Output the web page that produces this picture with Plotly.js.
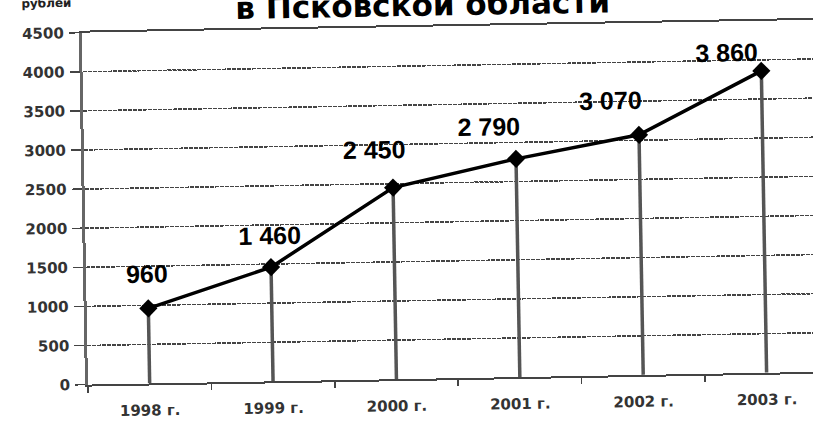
<!DOCTYPE html>
<html>
<head>
<meta charset="utf-8">
<script src="https://cdn.plot.ly/plotly-3.0.1.min.js"></script>
<style>
  html, body { margin: 0; padding: 0; background: #ffffff; overflow: hidden; width: 813px; height: 422px; }
  #chart { position: absolute; left: -10px; top: -10px; width: 833px; height: 442px;
           transform: rotate(-1deg); transform-origin: 50% 50%; }
</style>
</head>
<body>
<div id="chart"></div>
<script>
// ---- data ----
var years = ["1998 г.", "1999 г.", "2000 г.", "2001 г.", "2002 г.", "2003 г."];
var values = [960, 1460, 2450, 2790, 3070, 3860];
var valueLabels = ["960", "1 460", "2 450", "2 790", "3 070", "3 860"];
var yTicks = [0, 500, 1000, 1500, 2000, 2500, 3000, 3500, 4000, 4500];
var titleText = "в Псковской области";
var unitText = "рублей";

// ---- label placement (style) ----
var labelDx = [-1, -1, -18, -26, -28, -34];
var labelDy = [35, 32, 38, 33, 35, 19];

var trace = {
  type: "scatter",
  mode: "lines+markers",
  x: years,
  y: values,
  line: { color: "#000000", width: 3.5 },
  marker: { symbol: "diamond", size: 14, color: "#000000" },
  error_y: {
    type: "data",
    symmetric: false,
    array: values.map(function () { return 0; }),
    arrayminus: values,
    color: "#555555",
    thickness: 3.5,
    width: 0
  },
  hoverinfo: "x+y",
  showlegend: false
};

var annotations = values.map(function (v, i) {
  return {
    x: years[i], y: v, xref: "x", yref: "y",
    text: "<b>" + valueLabels[i] + "</b>", showarrow: false,
    xanchor: "center", yanchor: "middle",
    xshift: labelDx[i], yshift: labelDy[i],
    font: { family: "Liberation Sans, Arial, sans-serif", size: 25, color: "#000000" }
  };
});

annotations.push({
  x: 0.4648, y: 1, xref: "paper", yref: "paper",
  text: "<b>" + titleText + "</b>", showarrow: false,
  xanchor: "center", yanchor: "bottom", yshift: 2,
  font: { family: "DejaVu Sans, sans-serif", size: 31, color: "#000000" }
});
annotations.push({
  x: 0, y: 1, xref: "paper", yref: "paper",
  text: "<b>" + unitText + "</b>", showarrow: false,
  xanchor: "center", yanchor: "bottom", xshift: -35, yshift: 21,
  font: { family: "DejaVu Sans, sans-serif", size: 12, color: "#222222" }
});

var tickFont = { family: "DejaVu Sans, sans-serif", size: 15, color: "#333333", weight: "bold" };

var layout = {
  width: 833,
  height: 442,
  margin: { l: 95, r: 3, t: 37, b: 53, pad: 0 },
  paper_bgcolor: "#ffffff",
  plot_bgcolor: "#ffffff",
  showlegend: false,
  xaxis: {
    type: "category",
    range: [-0.5, 5.456],
    showgrid: false,
    zeroline: false,
    showline: true,
    linecolor: "#444444",
    linewidth: 2,
    mirror: true,
    ticks: "outside",
    tickson: "boundaries",
    ticklen: 6,
    tickwidth: 1.5,
    tickcolor: "#444444",
    ticklabelstandoff: 12,
    tickfont: tickFont,
    fixedrange: true
  },
  yaxis: {
    range: [0, 4500],
    tickmode: "array",
    tickvals: yTicks,
    ticktext: yTicks.map(String),
    showgrid: true,
    gridcolor: "#444444",
    gridwidth: 1.5,
    griddash: "4px,1px",
    zeroline: false,
    showline: true,
    linecolor: "#666666",
    linewidth: 3,
    ticks: "outside",
    ticklen: 10,
    tickwidth: 1.5,
    tickcolor: "#444444",
    ticklabelstandoff: 2,
    tickfont: tickFont,
    fixedrange: true
  },
  annotations: annotations
};

Plotly.newPlot("chart", [trace], layout, { displayModeBar: false, staticPlot: true });
</script>
</body>
</html>
